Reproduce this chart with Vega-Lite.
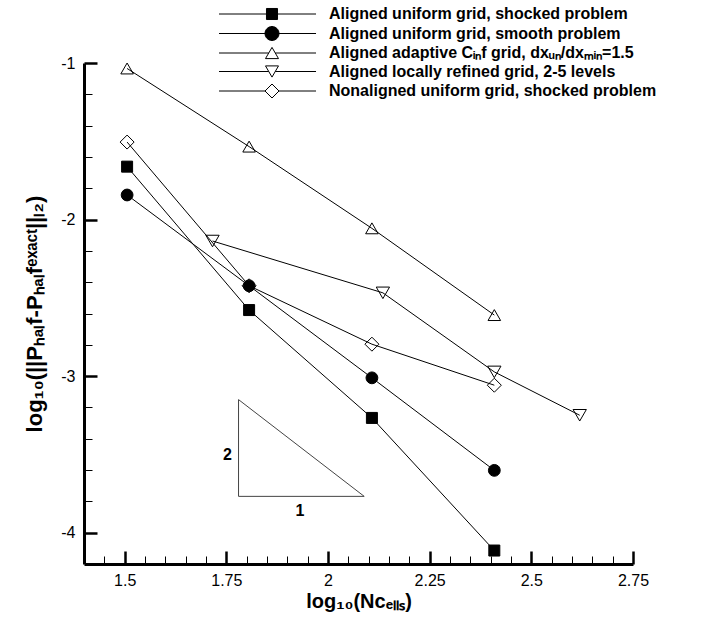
{
  "$schema": "https://vega.github.io/schema/vega-lite/v6.json",
  "width": 549,
  "height": 501,
  "autosize": {"type": "none"},
  "padding": {"left": 84, "top": 63, "right": 85, "bottom": 56},
  "background": "white",
  "config": {
    "view": {"stroke": null},
    "font": "Liberation Sans",
    "axis": {
      "grid": false,
      "domainColor": "black",
      "domainWidth": 3,
      "tickColor": "black",
      "labelColor": "black",
      "labelFont": "Liberation Sans",
      "labelFontSize": 16,
      "labelFontWeight": "normal",
      "titleColor": "black",
      "titleFont": "Liberation Sans",
      "titleFontSize": 20,
      "titleFontWeight": "bold",
      "labelFlush": false,
      "labelOverlap": false
    },
    "legend": {
      "title": null,
      "orient": "none",
      "legendX": 180,
      "legendY": -57,
      "padding": 0,
      "symbolSize": 196,
      "symbolStrokeColor": "black",
      "symbolStrokeWidth": 1,
      "labelFont": "Liberation Sans",
      "labelFontWeight": "bold",
      "labelFontSize": 16,
      "labelColor": "black",
      "labelOffset": 49,
      "labelLimit": 600,
      "rowPadding": 2.5
    }
  },
  "resolve": {
    "axis": {"x": "independent", "y": "independent"},
    "scale": {"shape": "independent", "fill": "independent", "size": "independent", "stroke": "independent"},
    "legend": {"shape": "independent", "fill": "independent", "size": "independent", "stroke": "independent"}
  },
  "datasets": {
    "series": [
      {"series": "Aligned uniform grid, shocked problem", "x": 1.506, "y": -1.662},
      {"series": "Aligned uniform grid, shocked problem", "x": 1.806, "y": -2.578},
      {"series": "Aligned uniform grid, shocked problem", "x": 2.108, "y": -3.267},
      {"series": "Aligned uniform grid, shocked problem", "x": 2.409, "y": -4.114},
      {"series": "Aligned uniform grid, smooth problem", "x": 1.506, "y": -1.843},
      {"series": "Aligned uniform grid, smooth problem", "x": 1.806, "y": -2.423},
      {"series": "Aligned uniform grid, smooth problem", "x": 2.108, "y": -3.011},
      {"series": "Aligned uniform grid, smooth problem", "x": 2.409, "y": -3.602},
      {"series": "Aligned adaptive Cᵢₙf grid, dxᵤₙ/dxₘᵢₙ=1.5", "x": 1.506, "y": -1.035},
      {"series": "Aligned adaptive Cᵢₙf grid, dxᵤₙ/dxₘᵢₙ=1.5", "x": 1.806, "y": -1.534},
      {"series": "Aligned adaptive Cᵢₙf grid, dxᵤₙ/dxₘᵢₙ=1.5", "x": 2.108, "y": -2.056},
      {"series": "Aligned adaptive Cᵢₙf grid, dxᵤₙ/dxₘᵢₙ=1.5", "x": 2.409, "y": -2.61},
      {"series": "Aligned locally refined grid, 2-5 levels", "x": 1.716, "y": -2.137},
      {"series": "Aligned locally refined grid, 2-5 levels", "x": 2.135, "y": -2.468},
      {"series": "Aligned locally refined grid, 2-5 levels", "x": 2.409, "y": -2.973},
      {"series": "Aligned locally refined grid, 2-5 levels", "x": 2.619, "y": -3.25},
      {"series": "Nonaligned uniform grid, shocked problem", "x": 1.506, "y": -1.505},
      {"series": "Nonaligned uniform grid, shocked problem", "x": 1.806, "y": -2.423},
      {"series": "Nonaligned uniform grid, shocked problem", "x": 2.108, "y": -2.796},
      {"series": "Nonaligned uniform grid, shocked problem", "x": 2.409, "y": -3.058}
    ],
    "slope": [
      {"x": 1.78, "y": -3.15, "ord": 1},
      {"x": 1.78, "y": -3.768, "ord": 2},
      {"x": 2.089, "y": -3.768, "ord": 3},
      {"x": 1.78, "y": -3.15, "ord": 4}
    ],
    "slopeLabels": [
      {"x": 1.753, "y": -3.503, "label": "2"},
      {"x": 1.931, "y": -3.862, "label": "1"}
    ]
  },
  "layer": [
    {
      "data": {"name": "series"},
      "mark": {"type": "line", "color": "black", "strokeWidth": 1},
      "encoding": {
        "x": {
          "field": "x", "type": "quantitative",
          "scale": {"domain": [1.4, 2.75], "nice": false, "zero": false},
          "axis": {
            "orient": "bottom",
            "title": "log₁₀(Ncₑₗₗₛ)",
            "values": [1.5, 1.75, 2, 2.25, 2.5, 2.75],
            "labelExpr": "toString(datum.value)",
            "labelOverlap": false,
            "labelFlush": false,
            "tickSize": -13,
            "tickWidth": 2.5,
            "labelPadding": 21,
            "titlePadding": 3
          }
        },
        "y": {
          "field": "y", "type": "quantitative",
          "scale": {"domain": [-4.2, -1], "nice": false, "zero": false},
          "axis": {
            "orient": "left",
            "title": "log₁₀(||Pₕₐₗf-Pₕₐₗfᵉˣᵃᶜᵗ||ₗ₂)",
            "titleFontSize": 22,
            "values": [-4, -3, -2, -1],
            "labelExpr": "toString(datum.value)",
            "labelOverlap": false,
            "labelFlush": false,
            "tickSize": -13,
            "tickWidth": 2.5,
            "labelPadding": 22,
            "titlePadding": 14
          }
        },
        "detail": {"field": "series", "type": "nominal"}
      }
    },
    {
      "data": {"name": "series"},
      "mark": {"type": "point", "filled": true, "stroke": "black", "strokeWidth": 1, "opacity": 1},
      "encoding": {
        "x": {"field": "x", "type": "quantitative", "axis": null},
        "y": {"field": "y", "type": "quantitative", "axis": null},
        "shape": {
          "field": "series", "type": "nominal",
          "scale": {
            "domain": ["Aligned uniform grid, shocked problem", "Aligned uniform grid, smooth problem", "Aligned adaptive Cᵢₙf grid, dxᵤₙ/dxₘᵢₙ=1.5", "Aligned locally refined grid, 2-5 levels", "Nonaligned uniform grid, shocked problem"],
            "range": ["square", "circle", "triangle-up", "triangle-down", "diamond"]
          },
          "legend": null
        },
        "size": {
          "field": "series", "type": "nominal",
          "scale": {
            "domain": ["Aligned uniform grid, shocked problem", "Aligned uniform grid, smooth problem", "Aligned adaptive Cᵢₙf grid, dxᵤₙ/dxₘᵢₙ=1.5", "Aligned locally refined grid, 2-5 levels", "Nonaligned uniform grid, shocked problem"],
            "range": [121, 196, 169, 169, 196]
          },
          "legend": null
        },
        "fill": {
          "field": "series", "type": "nominal",
          "scale": {
            "domain": ["Aligned uniform grid, shocked problem", "Aligned uniform grid, smooth problem", "Aligned adaptive Cᵢₙf grid, dxᵤₙ/dxₘᵢₙ=1.5", "Aligned locally refined grid, 2-5 levels", "Nonaligned uniform grid, shocked problem"],
            "range": ["black", "black", "transparent", "transparent", "transparent"]
          },
          "legend": null
        }
      }
    },
    {
      "data": {"name": "series"},
      "transform": [{"filter": "false"}],
      "mark": {"type": "point", "filled": true, "strokeWidth": 1, "opacity": 1},
      "encoding": {
        "x": {"field": "x", "type": "quantitative", "axis": null},
        "y": {"field": "y", "type": "quantitative", "axis": null},
        "shape": {
          "field": "series", "type": "nominal",
          "scale": {
            "domain": ["Aligned uniform grid, shocked problem", "Aligned uniform grid, smooth problem", "Aligned adaptive Cᵢₙf grid, dxᵤₙ/dxₘᵢₙ=1.5", "Aligned locally refined grid, 2-5 levels", "Nonaligned uniform grid, shocked problem"],
            "range": [
              "M-7.57,0H-0.79M0.79,0H6.29M-0.79,-0.79H0.79V0.79H-0.79Z",
              "M-7.57,0H-1M1,0H6.29M-1,0A1,1 0 1,1 1,0A1,1 0 1,1 -1,0Z",
              "M-7.57,0H-0.47M0.47,0H6.29M0,-0.8L0.93,0.8L-0.93,0.8Z",
              "M-7.57,0H-0.47M0.47,0H6.29M0,0.8L0.93,-0.8L-0.93,-0.8Z",
              "M-7.57,0H-1M1,0H6.29M0,-1L1,0L0,1L-1,0Z"
            ]
          },
          "legend": {}
        },
        "fill": {
          "field": "series", "type": "nominal",
          "scale": {
            "domain": ["Aligned uniform grid, shocked problem", "Aligned uniform grid, smooth problem", "Aligned adaptive Cᵢₙf grid, dxᵤₙ/dxₘᵢₙ=1.5", "Aligned locally refined grid, 2-5 levels", "Nonaligned uniform grid, shocked problem"],
            "range": ["black", "black", "transparent", "transparent", "transparent"]
          },
          "legend": {}
        },
        "stroke": {
          "field": "series", "type": "nominal",
          "scale": {
            "domain": ["Aligned uniform grid, shocked problem", "Aligned uniform grid, smooth problem", "Aligned adaptive Cᵢₙf grid, dxᵤₙ/dxₘᵢₙ=1.5", "Aligned locally refined grid, 2-5 levels", "Nonaligned uniform grid, shocked problem"],
            "range": ["black", "black", "black", "black", "black"]
          },
          "legend": {}
        }
      }
    },
    {
      "data": {"name": "slope"},
      "mark": {"type": "line", "color": "#444444", "strokeWidth": 1},
      "encoding": {
        "x": {
          "field": "x", "type": "quantitative",
          "axis": {
            "orient": "bottom",
            "title": null,
            "labels": false,
            "domain": false,
            "values": [1.45, 1.55, 1.6, 1.65, 1.7, 1.8, 1.85, 1.9, 1.95, 2.05, 2.1, 2.15, 2.2, 2.3, 2.35, 2.4, 2.45, 2.55, 2.6, 2.65, 2.7],
            "tickSize": -8,
            "tickWidth": 1
          }
        },
        "y": {
          "field": "y", "type": "quantitative",
          "axis": {
            "orient": "left",
            "title": null,
            "labels": false,
            "domain": false,
            "values": [-3.8, -3.6, -3.4, -3.2, -2.8, -2.6, -2.4, -2.2, -1.8, -1.6, -1.4, -1.2],
            "tickSize": -8,
            "tickWidth": 1
          }
        },
        "order": {"field": "ord", "type": "quantitative"}
      }
    },
    {
      "data": {"name": "slopeLabels"},
      "mark": {"type": "text", "font": "Liberation Sans", "fontWeight": "bold", "fontSize": 16, "color": "black", "align": "center", "baseline": "middle"},
      "encoding": {
        "x": {"field": "x", "type": "quantitative", "axis": null},
        "y": {"field": "y", "type": "quantitative", "axis": null},
        "text": {"field": "label", "type": "nominal"}
      }
    }
  ]
}
